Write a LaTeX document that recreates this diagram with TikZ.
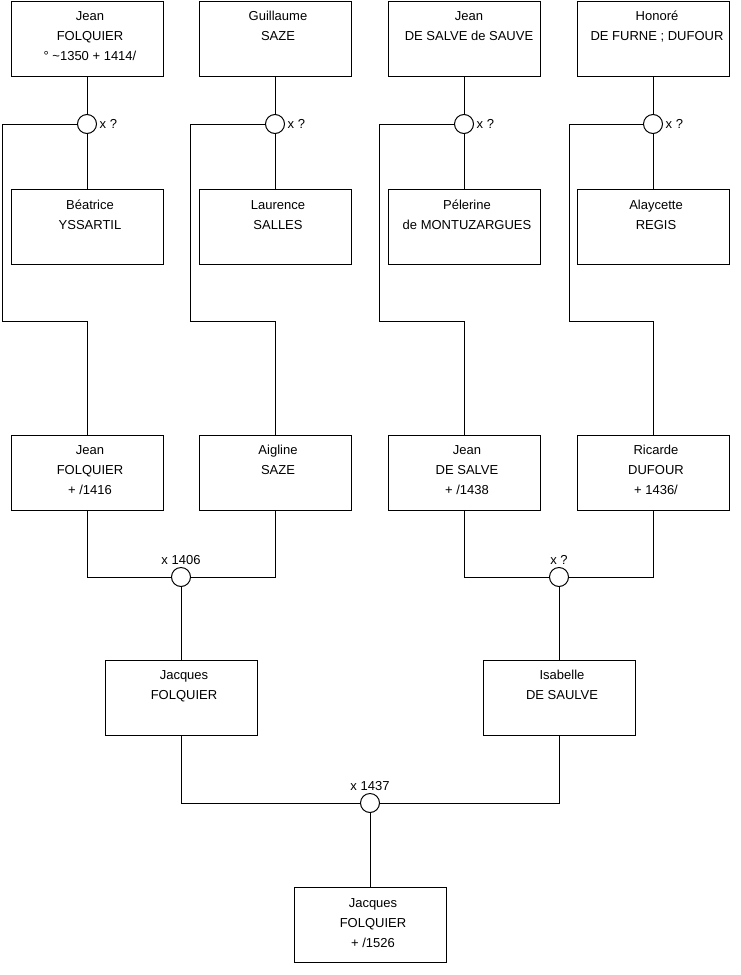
\documentclass[tikz,border=0pt]{standalone}
\usepackage{fontspec}
\setmainfont{Liberation Sans}
\begin{document}
\begin{tikzpicture}[x=1pt,y=-1pt,
  pbox/.style={draw=black,line width=1pt,fill=white,minimum width=152pt,minimum height=75pt,inner sep=0pt},
  ptext/.style={anchor=north,align=center,inner sep=0pt,font=\fontsize{13}{20}\selectfont,text=black},
  union/.style={circle,draw=black,line width=1pt,fill=white,minimum size=19pt,inner sep=0pt},
  ulab/.style={font=\fontsize{13}{16}\selectfont,inner sep=2.5pt},
  link/.style={draw=black,line width=1pt}
]
\useasboundingbox (0,0) rectangle (740,975);
\newcommand{\fs}{\rule{0pt}{10pt}}
% ---- row 1
\node[pbox] (a1) at (87,38.5) {};
\node[pbox] (a2) at (275,38.5) {};
\node[pbox] (a3) at (464,38.5) {};
\node[pbox] (a4) at (653,38.5) {};
\node[ptext] (ta1) at ([shift={(3,10)}]a1.north) {\fs Jean\\FOLQUIER\\° \textasciitilde 1350 + 1414/};
\node[ptext] (ta2) at ([shift={(3,10)}]a2.north) {\fs Guillaume\\SAZE};
\node[ptext] (ta3) at ([shift={(5,10)}]a3.north) {\fs Jean\\DE SALVE de SAUVE};
\node[ptext] (ta4) at ([shift={(4,10)}]a4.north) {\fs Honoré\\DE FURNE ; DUFOUR};
% ---- unions row 1
\node[union,label={[ulab]right:x ?}] (m1) at (87,124) {};
\node[union,label={[ulab]right:x ?}] (m2) at (275,124) {};
\node[union,label={[ulab]right:x ?}] (m3) at (464,124) {};
\node[union,label={[ulab]right:x ?}] (m4) at (653,124) {};
% ---- row 2
\node[pbox] (b1) at (87,227) {};
\node[pbox] (b2) at (275,227) {};
\node[pbox] (b3) at (464,227) {};
\node[pbox] (b4) at (653,227) {};
\node[ptext] (tb1) at ([shift={(3,10)}]b1.north) {\fs Béatrice\\YSSARTIL};
\node[ptext] (tb2) at ([shift={(3,10)}]b2.north) {\fs Laurence\\SALLES};
\node[ptext] (tb3) at ([shift={(3,10)}]b3.north) {\fs Pélerine\\de MONTUZARGUES};
\node[ptext] (tb4) at ([shift={(3,10)}]b4.north) {\fs Alaycette\\REGIS};
% ---- row 3
\node[pbox] (c1) at (87,472.5) {};
\node[pbox] (c2) at (275,472.5) {};
\node[pbox] (c3) at (464,472.5) {};
\node[pbox] (c4) at (653,472.5) {};
\node[ptext] (tc1) at ([shift={(3,10)}]c1.north) {\fs Jean\\FOLQUIER\\+ /1416};
\node[ptext] (tc2) at ([shift={(3,10)}]c2.north) {\fs Aigline\\SAZE};
\node[ptext] (tc3) at ([shift={(3,10)}]c3.north) {\fs Jean\\DE SALVE\\+ /1438};
\node[ptext] (tc4) at ([shift={(3,10)}]c4.north) {\fs Ricarde\\DUFOUR\\+ 1436/};
% ---- unions row 3
\node[union,label={[ulab]above:x 1406}] (n1) at (181,577) {};
\node[union,label={[ulab]above:x ?}] (n2) at (559,577) {};
% ---- row 4
\node[pbox] (d1) at (181,697.5) {};
\node[pbox] (d2) at (559,697.5) {};
\node[ptext] (td1) at ([shift={(3,10)}]d1.north) {\fs Jacques\\FOLQUIER};
\node[ptext] (td2) at ([shift={(3,10)}]d2.north) {\fs Isabelle\\DE SAULVE};
% ---- union row 4
\node[union,label={[ulab]above:x 1437}] (p1) at (370,803) {};
% ---- row 5
\node[pbox] (e1) at (370,925) {};
\node[ptext] (te1) at ([shift={(3,10)}]e1.north) {\fs Jacques\\FOLQUIER\\+ /1526};
% ---- corner coordinates
\coordinate (k1a) at (2,124);   \coordinate (k1b) at (2,321);
\coordinate (k2a) at (190,124); \coordinate (k2b) at (190,321);
\coordinate (k3a) at (379,124); \coordinate (k3b) at (379,321);
\coordinate (k4a) at (569,124); \coordinate (k4b) at (569,321);
% ---- connectors
\foreach \i in {1,2,3,4}{
  \draw[link] (a\i) -- (m\i);
  \draw[link] (m\i) -- (b\i);
  \draw[link] (m\i.west) -- (k\i a) -- (k\i b) -| (c\i.north);
}
\draw[link] (c1.south) |- (n1.west);
\draw[link] (c2.south) |- (n1.east);
\draw[link] (c3.south) |- (n2.west);
\draw[link] (c4.south) |- (n2.east);
\draw[link] (n1) -- (d1);
\draw[link] (n2) -- (d2);
\draw[link] (d1.south) |- (p1.west);
\draw[link] (d2.south) |- (p1.east);
\draw[link] (p1) -- (e1);
\end{tikzpicture}
\end{document}
